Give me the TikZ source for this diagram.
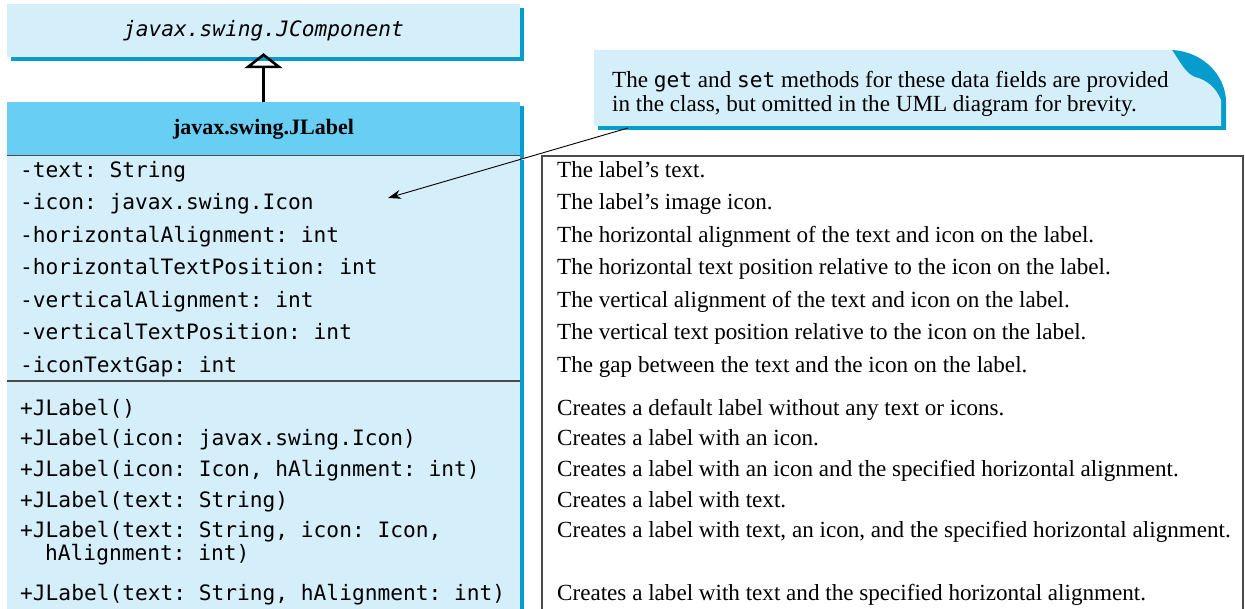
\documentclass[tikz,border=0pt]{standalone}
\usepackage{fontspec}
\setmainfont{Liberation Serif}
\setmonofont{DejaVu Sans Mono}
\usepackage{xcolor}
\definecolor{umlpale}{HTML}{D4EEFA}
\definecolor{umlsky}{HTML}{68CEF4}
\definecolor{umlshade}{HTML}{069DCE}
\definecolor{umlrule}{HTML}{4A4A4A}
\usepackage{tikz}
\usetikzlibrary{arrows.meta,positioning,shadows}
\newcommand{\umlmono}{\fontsize{21.2}{24}\selectfont\ttfamily}
\newcommand{\umlserif}{\fontsize{23.1}{24}\selectfont\rmfamily}
\tikzset{
  umlclass/.style={fill=umlpale,inner sep=0pt,minimum width=513pt,drop shadow={shadow xshift=4pt,shadow yshift=-4pt,fill=umlshade,opacity=1}},
  umlmember/.style={anchor=base west,inner sep=0pt,font=\umlmono},
  umldesc/.style={anchor=base west,inner sep=0pt,font=\umlserif},
  umlsep/.style={draw=umlrule,line width=1.6pt},
  umlinherit/.style={-{Triangle[open,length=15pt,width=38pt]},line width=2.6pt},
  umlpointer/.style={-{Stealth[length=13pt,width=9pt]},line width=0.9pt},
}

\begin{document}
\begin{tikzpicture}[x=1pt,y=-1pt]
\useasboundingbox (0,0) rectangle (1245,609);
 % classes
\node[umlclass,minimum height=53pt,font=\umlmono\itshape] (jcomp) at (263.5,30.5) {javax.swing.JComponent};
\node[umlclass,fill=umlsky,minimum height=53pt,font=\fontsize{22}{24}\selectfont\bfseries,below=45pt of jcomp] (jlhead) {javax.swing.JLabel};
\node[umlclass,minimum height=470pt,below=0pt of jlhead] (jlbody) {};
\coordinate (sepy) at (0,381);
\draw[umlsep] (jlhead.south west) -- (jlhead.south east);
\draw[umlsep] (jlbody.west |- sepy) -- (jlbody.east |- sepy);
\draw[umlinherit,shorten >=-4pt] (jlhead) -- (jcomp);
\node[draw=umlrule,line width=1.6pt,inner sep=0pt,minimum width=701pt,minimum height=470pt,anchor=north west] (descbox) at (541,155) {};
 % data fields
\node[umlmember] (ftext) at (20,177.5) {-text: String};
\node[umlmember] (ficon) at (20,210) {-icon: javax.swing.Icon};
\node[umlmember] (fhalign) at (20,242.5) {-horizontalAlignment: int};
\node[umlmember] (fhtpos) at (20,275) {-horizontalTextPosition: int};
\node[umlmember] (fvalign) at (20,307.5) {-verticalAlignment: int};
\node[umlmember] (fvtpos) at (20,340) {-verticalTextPosition: int};
\node[umlmember] (fgap) at (20,372.5) {-iconTextGap: int};
\node[umldesc] (dtext) at (557,177.5) {The label’s text.};
\node[umldesc] (dicon) at (557,210) {The label’s image icon.};
\node[umldesc] (dhalign) at (557,242.5) {The horizontal alignment of the text and icon on the label.};
\node[umldesc] (dhtpos) at (557,275) {The horizontal text position relative to the icon on the label.};
\node[umldesc] (dvalign) at (557,307.5) {The vertical alignment of the text and icon on the label.};
\node[umldesc] (dvtpos) at (557,340) {The vertical text position relative to the icon on the label.};
\node[umldesc] (dgap) at (557,372.5) {The gap between the text and the icon on the label.};
 % constructors
\node[umlmember] (mnone) at (20,415.5) {+JLabel()};
\node[umlmember] (micon) at (20,446) {+JLabel(icon: javax.swing.Icon)};
\node[umlmember] (miconal) at (20,476.5) {+JLabel(icon: Icon, hAlignment: int)};
\node[umlmember] (mtext) at (20,507) {+JLabel(text: String)};
\node[umlmember] (mall) at (20,537.5) {+JLabel(text: String, icon: Icon,};
\node[umlmember] (mallcont) at (45,560.5) {hAlignment: int)};
\node[umlmember] (mtextal) at (20,600.5) {+JLabel(text: String, hAlignment: int)};
\node[umldesc] (cnone) at (557,415.5) {Creates a default label without any text or icons.};
\node[umldesc] (cicon) at (557,446) {Creates a label with an icon.};
\node[umldesc] (ciconal) at (557,476.5) {Creates a label with an icon and the specified horizontal alignment.};
\node[umldesc] (ctext) at (557,507) {Creates a label with text.};
\node[umldesc] (call) at (557,537.5) {Creates a label with text, an icon, and the specified horizontal alignment.};
\node[umldesc] (ctextal) at (557,600.5) {Creates a label with text and the specified horizontal alignment.};
 % note
\fill[umlshade] (598,54) -- (1172,50) .. controls (1206,52) and (1226,78) .. (1226,102) -- (1226,130) -- (598,130) -- cycle;
\fill[umlpale] (594,50) -- (1172,50) .. controls (1180,62) and (1186,74) .. (1195,77) .. controls (1207,80) and (1216,88) .. (1221,100) -- (1221,126) -- (594,126) -- cycle;
\node[umldesc,anchor=north west,align=left] (note) at (612,71) {The {\umlmono get} and {\umlmono set} methods for these data fields are provided\\in the class, but omitted in the UML diagram for brevity.};
\coordinate (notetail) at (628,128);
\coordinate (icontip) at (388,198);
\draw[umlpointer] (notetail) -- (icontip);
\end{tikzpicture}
\end{document}
